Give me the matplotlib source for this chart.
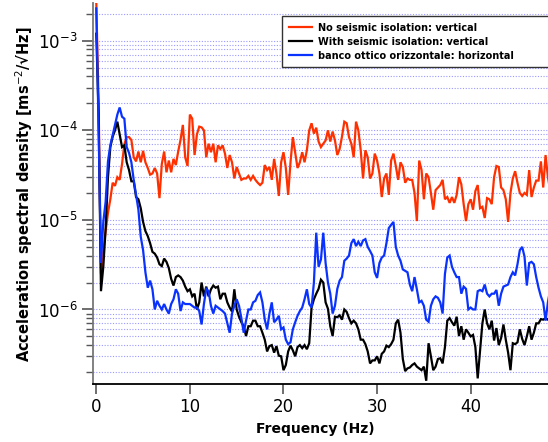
import matplotlib
matplotlib.use('Agg')
import matplotlib.pyplot as plt
from matplotlib.ticker import LogLocator, NullFormatter, LogFormatterMathtext
import numpy as np

# frequency bins (Hz), 0.25 Hz spacing
f_step = 0.25
n_bins = 195
freq = np.arange(n_bins) * f_step

# No seismic isolation: vertical  (one row = 1 Hz)
red_vals = [
    2.7e-3, 2.0e-4, 2.5e-6, 4.5e-6,
    7.5e-6, 1.2e-5, 1.7e-5, 2.6e-5,
    2.4e-5, 3.0e-5, 2.8e-5, 4.2e-5,
    7.0e-5, 8.4e-5, 8.4e-5, 7.8e-5,
    5.0e-5, 4.5e-5, 5.8e-5, 4.4e-5,
    5.9e-5, 4.4e-5, 3.8e-5, 3.2e-5,
    3.3e-5, 3.8e-5, 3.3e-5, 1.75e-5,
    4.2e-5, 5.8e-5, 3.4e-5, 4.6e-5,
    3.4e-5, 4.8e-5, 4.1e-5, 5.8e-5,
    7.8e-5, 1.15e-4, 5.0e-5, 4.0e-5,
    1.5e-4, 1.35e-4, 5.3e-5, 9.0e-5,
    1.1e-4, 1.08e-4, 1.0e-4, 5.0e-5,
    7.1e-5, 5.7e-5, 7.1e-5, 4.4e-5,
    6.8e-5, 6.2e-5, 6.8e-5, 5.5e-5,
    3.8e-5, 5.3e-5, 4.4e-5, 2.9e-5,
    3.9e-5, 3.3e-5, 2.8e-5, 2.9e-5,
    2.9e-5, 3.1e-5, 2.8e-5, 3.1e-5,
    2.8e-5, 2.6e-5, 2.45e-5, 2.6e-5,
    4.1e-5, 3.6e-5, 3.9e-5, 2.8e-5,
    4.8e-5, 3.3e-5, 1.85e-5, 4.4e-5,
    5.7e-5, 3.8e-5, 1.9e-5, 4.4e-5,
    8.4e-5, 5.7e-5, 3.8e-5, 4.4e-5,
    5.7e-5, 4.4e-5, 6.0e-5, 1.0e-4,
    1.2e-4, 9.2e-5, 1.07e-4, 7.5e-5,
    6.5e-5, 7.1e-5, 7.7e-5, 1.0e-4,
    7.5e-5, 9.7e-5, 7.7e-5, 5.3e-5,
    6.2e-5, 8.5e-5, 1.25e-4, 1.2e-4,
    8.4e-5, 7.1e-5, 5.0e-5, 1.25e-4,
    1.0e-4, 6.0e-5, 2.9e-5, 6.0e-5,
    5.0e-5, 2.9e-5, 3.3e-5, 5.5e-5,
    4.6e-5, 3.3e-5, 1.8e-5, 2.9e-5,
    3.3e-5, 1.9e-5, 4.6e-5, 5.5e-5,
    4.0e-5, 2.8e-5, 4.4e-5, 3.9e-5,
    2.6e-5, 2.9e-5, 2.8e-5, 2.8e-5,
    2.0e-5, 9.7e-6, 4.6e-5, 3.6e-5,
    1.7e-5, 3.3e-5, 3.0e-5, 2.0e-5,
    1.3e-5, 2.15e-5, 2.3e-5, 2.45e-5,
    2.8e-5, 1.7e-5, 1.8e-5, 1.55e-5,
    1.8e-5, 1.55e-5, 1.9e-5, 3.0e-5,
    2.5e-5, 1.5e-5, 9.7e-6, 1.5e-5,
    1.7e-5, 1.3e-5, 2.1e-5, 2.45e-5,
    1.35e-5, 1.4e-5, 1.05e-5, 1.75e-5,
    1.7e-5, 1.5e-5, 3.0e-5, 4.0e-5,
    3.9e-5, 2.3e-5, 2.15e-5, 1.7e-5,
    9.5e-6, 2.0e-5, 2.9e-5, 3.5e-5,
    2.6e-5, 2.0e-5, 1.85e-5, 2.0e-5,
    1.9e-5, 3.6e-5, 1.8e-5, 2.3e-5,
    2.75e-5, 2.75e-5, 4.5e-5, 2.3e-5,
    5.3e-5, 3.0e-5, 2.1e-5,
]

# With seismic isolation: vertical
black_vals = [
    1.2e-3, 1.5e-4, 1.6e-6, 3.0e-6,
    8.0e-6, 3.0e-5, 6.5e-5, 8.5e-5,
    1.0e-4, 1.25e-4, 9.0e-5, 6.5e-5,
    6.8e-5, 4.4e-5, 3.6e-5, 2.7e-5,
    2.7e-5, 1.8e-5, 1.7e-5, 1.35e-5,
    9.5e-6, 7.5e-6, 6.6e-6, 5.5e-6,
    4.4e-6, 4.2e-6, 3.8e-6, 3.2e-6,
    3.05e-6, 3.7e-6, 3.4e-6, 2.9e-6,
    2.2e-6, 1.85e-6, 2.3e-6, 2.4e-6,
    2.3e-6, 2.1e-6, 1.8e-6, 1.6e-6,
    1.68e-6, 1.4e-6, 1.5e-6, 1.0e-6,
    1.2e-6, 2.0e-6, 1.4e-6, 1.8e-6,
    1.4e-6, 1.68e-6, 1.85e-6, 1.75e-6,
    1.8e-6, 1.3e-6, 1.5e-6, 1.5e-6,
    1.2e-6, 1.05e-6, 9.5e-7, 1.68e-6,
    1.0e-6, 8.3e-7, 7.2e-7, 6.5e-7,
    5.05e-7, 6.5e-7, 6.5e-7, 7.5e-7,
    7.5e-7, 6.5e-7, 6.5e-7, 5.5e-7,
    4.6e-7, 3.4e-7, 3.9e-7, 4.0e-7,
    3.3e-7, 3.9e-7, 3.05e-7, 3.0e-7,
    2.1e-7, 2.4e-7, 3.4e-7, 3.95e-7,
    3.5e-7, 3.0e-7, 3.8e-7, 4.0e-7,
    3.7e-7, 4.0e-7, 3.6e-7, 4.2e-7,
    1.05e-6, 1.3e-6, 1.5e-6, 1.7e-6,
    2.15e-6, 2.0e-6, 1.2e-6, 1.02e-6,
    6.5e-7, 5.05e-7, 8.3e-7, 8.2e-7,
    8.6e-7, 7.7e-7, 1.0e-6, 9.4e-7,
    8.0e-7, 7.0e-7, 7.5e-7, 7.0e-7,
    6.0e-7, 4.6e-7, 4.6e-7, 4.1e-7,
    3.4e-7, 2.5e-7, 2.7e-7, 2.7e-7,
    3.0e-7, 2.5e-7, 3.2e-7, 3.4e-7,
    3.95e-7, 3.8e-7, 4.1e-7, 4.6e-7,
    7.0e-7, 7.7e-7, 5.5e-7, 2.8e-7,
    2.05e-7, 2.2e-7, 2.25e-7, 2.4e-7,
    2.5e-7, 2.3e-7, 2.2e-7, 2.1e-7,
    2.3e-7, 1.6e-7, 4.2e-7, 3.0e-7,
    2.1e-7, 2.3e-7, 2.8e-7, 2.85e-7,
    2.5e-7, 3.8e-7, 7.5e-7, 8.0e-7,
    7.2e-7, 6.6e-7, 8.3e-7, 5.05e-7,
    6.5e-7, 4.6e-7, 6.0e-7, 5.5e-7,
    5.0e-7, 5.2e-7, 3.8e-7, 1.7e-7,
    3.5e-7, 7.0e-7, 1.0e-6, 7.0e-7,
    6.0e-7, 7.5e-7, 4.5e-7, 6.2e-7,
    4.0e-7, 4.8e-7, 6.8e-7, 4.6e-7,
    3.3e-7, 2.1e-7, 4.2e-7, 4.1e-7,
    4.3e-7, 6.0e-7, 4.7e-7, 4.0e-7,
    5.0e-7, 6.5e-7, 4.6e-7, 5.5e-7,
    7.0e-7, 7.0e-7, 7.8e-7, 7.7e-7,
    8.0e-7, 7.7e-7, 8.3e-7,
]

# banco ottico orizzontale: horizontal
blue_vals = [
    2.3e-3, 1.0e-4, 3.3e-6, 9.5e-6,
    1.6e-5, 4.5e-5, 6.8e-5, 8.8e-5,
    1.15e-4, 1.5e-4, 1.8e-4, 1.42e-4,
    1.35e-4, 6.5e-5, 5.6e-5, 4.4e-5,
    2.8e-5, 1.9e-5, 1.3e-5, 6.5e-6,
    4.6e-6, 2.6e-6, 1.75e-6, 2.1e-6,
    1.68e-6, 1.0e-6, 1.25e-6, 1.1e-6,
    1.0e-6, 1.15e-6, 1.0e-6, 9.0e-7,
    1.15e-6, 1.3e-6, 1.68e-6, 1.5e-6,
    9.6e-7, 1.2e-6, 1.15e-6, 1.15e-6,
    1.15e-6, 1.1e-6, 1.05e-6, 1.05e-6,
    9.6e-7, 6.8e-7, 1.15e-6, 1.7e-6,
    1.6e-6, 1.1e-6, 9.0e-7, 1.1e-6,
    1.05e-6, 1.0e-6, 9.6e-7, 9.0e-7,
    7.0e-7, 5.5e-7, 9.0e-7, 1.1e-6,
    1.3e-6, 1.1e-6, 8.0e-7, 5.5e-7,
    7.5e-7, 1.0e-6, 1.0e-6, 1.2e-6,
    1.25e-6, 1.45e-6, 1.55e-6, 1.2e-6,
    7.7e-7, 6.0e-7, 9.0e-7, 1.2e-6,
    7.2e-7, 7.7e-7, 8.5e-7, 6.0e-7,
    6.3e-7, 4.6e-7, 4.1e-7, 4.3e-7,
    6.0e-7, 7.2e-7, 8.5e-7, 9.6e-7,
    1.05e-6, 1.3e-6, 1.68e-6, 1.15e-6,
    1.05e-6, 2.0e-6, 7.2e-6, 3.0e-6,
    3.6e-6, 7.2e-6, 3.3e-6, 2.0e-6,
    1.5e-6, 9.0e-7, 1.1e-6, 1.7e-6,
    2.1e-6, 2.3e-6, 3.5e-6, 3.7e-6,
    4.0e-6, 5.5e-6, 6.1e-6, 5.1e-6,
    5.7e-6, 5.1e-6, 5.9e-6, 6.1e-6,
    5.0e-6, 4.5e-6, 4.0e-6, 2.6e-6,
    2.25e-6, 3.3e-6, 3.8e-6, 4.0e-6,
    5.5e-6, 8.1e-6, 8.8e-6, 9.5e-6,
    5.0e-6, 4.0e-6, 3.5e-6, 2.8e-6,
    2.7e-6, 2.6e-6, 1.9e-6, 1.6e-6,
    2.3e-6, 1.68e-6, 1.2e-6, 1.25e-6,
    1.1e-6, 7.7e-7, 7.3e-7, 1.1e-6,
    1.3e-6, 1.4e-6, 1.35e-6, 1.2e-6,
    9.0e-7, 2.5e-6, 3.8e-6, 4.0e-6,
    3.0e-6, 2.6e-6, 2.3e-6, 2.3e-6,
    1.5e-6, 1.8e-6, 1.7e-6, 1.0e-6,
    1.05e-6, 1.0e-6, 1.0e-6, 1.6e-6,
    1.65e-6, 1.6e-6, 1.9e-6, 1.5e-6,
    1.4e-6, 1.5e-6, 1.5e-6, 1.65e-6,
    1.1e-6, 1.5e-6, 1.8e-6, 1.85e-6,
    1.9e-6, 2.3e-6, 2.6e-6, 2.4e-6,
    3.2e-6, 4.6e-6, 5.0e-6, 3.9e-6,
    1.85e-6, 3.3e-6, 3.4e-6, 3.2e-6,
    2.3e-6, 1.75e-6, 1.4e-6, 1.2e-6,
    7.5e-7, 1.2e-6, 1.7e-6,
]

series_labels = ['No seismic isolation: vertical',
                 'With seismic isolation: vertical',
                 'banco ottico orizzontale: horizontal']
series_colors = ['#ff3000', '#000000', '#0a32ff']

plt.rcParams['font.family'] = ['DejaVu Sans']

fig = plt.figure(figsize=(5.48, 4.42), dpi=100)
ax = fig.add_axes([0.1692, 0.1305, 0.8308, 0.862])

for vals, lab, col in zip([red_vals, black_vals, blue_vals], series_labels, series_colors):
    ax.plot(freq, vals, color=col, lw=1.6, label=lab, solid_joinstyle='miter')

ax.set_yscale('log')
ax.set_xlim(-0.38, 48.26)
ax.set_ylim(1.46e-7, 2.62e-3)

ax.yaxis.set_major_locator(LogLocator(base=10, numticks=20))
ax.yaxis.set_minor_locator(LogLocator(base=10, subs=np.arange(2, 10), numticks=20))
ax.yaxis.set_major_formatter(LogFormatterMathtext())
ax.yaxis.set_minor_formatter(NullFormatter())
ax.set_xticks([0, 10, 20, 30, 40])

# dotted horizontal grid at every decade subdivision
ax.yaxis.grid(True, which='both', linestyle=(0, (1, 1.5)), color='#9a9aff', lw=0.8)
ax.xaxis.grid(False)
ax.set_axisbelow(True)

ax.spines['top'].set_visible(False)
ax.spines['right'].set_visible(False)
ax.spines['left'].set_color('#777777')
ax.spines['left'].set_linewidth(1.3)
ax.spines['bottom'].set_linewidth(1.3)

ax.tick_params(axis='y', which='major', direction='out', length=8, width=1.2,
               color='#555555', labelsize=12, pad=3)
ax.tick_params(axis='y', which='minor', direction='out', length=5, width=1.0,
               color='#555555')
ax.tick_params(axis='x', which='major', direction='out', length=7, width=1.2,
               color='#555555', labelsize=12, pad=3)

ax.set_xlabel('Frequency (Hz)', fontsize=10, fontweight='bold')
ax.xaxis.set_label_coords(0.49, -0.099)
ax.set_ylabel('Acceleration spectral density [ms$^{-2}$/√Hz]', fontsize=10.5, fontweight='bold')
ax.yaxis.set_label_coords(-0.126, 0.5)

# legend box runs past the right edge of the picture, as in the original
leg = ax.legend(loc='upper left', mode='expand',
                bbox_to_anchor=(282 / 548, 1 - 16 / 442, 300 / 548, 0),
                bbox_transform=fig.transFigure, fontsize=7, frameon=True,
                fancybox=False, framealpha=1, edgecolor='#333333',
                handlelength=2.4, handletextpad=0.6, borderpad=0.7,
                labelspacing=0.4, borderaxespad=0)
leg.get_frame().set_linewidth(1.0)
for t in leg.get_texts():
    t.set_fontweight('bold')

fig.savefig('out.png', dpi=100)
